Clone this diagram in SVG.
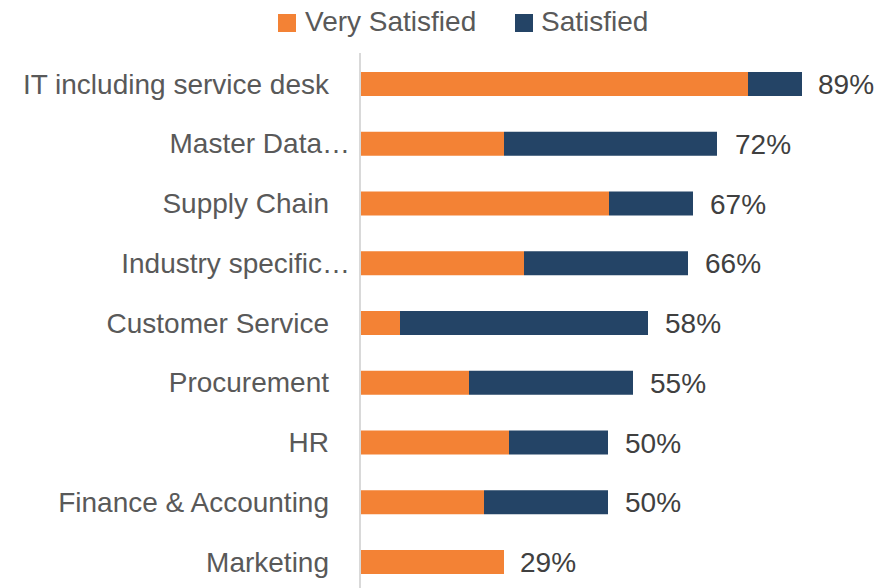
<svg xmlns="http://www.w3.org/2000/svg" width="889" height="588" viewBox="0 0 889 588">
<style>
.lbl{font-family:"Liberation Sans",Arial,sans-serif;font-size:28px;fill:#595959;text-anchor:end}
.val{font-family:"Liberation Sans",Arial,sans-serif;font-size:28px;fill:#404040}
.leg{font-family:"Liberation Sans",Arial,sans-serif;font-size:28px;fill:#595959}
.vs{fill:#F38235}
.s{fill:#244466}
</style>
<rect width="889" height="588" fill="#FFFFFF"/>
<g id="legend">
<rect class="vs" x="278" y="14" width="18" height="18"/>
<text class="leg" x="305" y="31">Very Satisfied</text>
<rect class="s" x="515" y="14" width="18" height="18"/>
<text class="leg" x="541" y="31">Satisfied</text>
</g>
<g id="axis"><line x1="360" y1="53" x2="360" y2="588" stroke="#D9D9D9" stroke-width="2"/></g>
<g id="bar-it">
<rect class="vs" x="361" y="72" width="387" height="24"/>
<rect class="s" x="748" y="72" width="54" height="24"/>
<text class="lbl" x="329" y="93.5">IT including service desk</text>
<text class="val" x="818" y="94">89%</text>
</g>
<g id="bar-master">
<rect class="vs" x="361" y="131.75" width="143" height="24"/>
<rect class="s" x="504" y="131.75" width="213" height="24"/>
<text class="lbl" x="350" y="153.25">Master Data…</text>
<text class="val" x="735" y="153.75">72%</text>
</g>
<g id="bar-supply">
<rect class="vs" x="361" y="191.5" width="248" height="24"/>
<rect class="s" x="609" y="191.5" width="84" height="24"/>
<text class="lbl" x="329" y="213">Supply Chain</text>
<text class="val" x="710" y="213.5">67%</text>
</g>
<g id="bar-industry">
<rect class="vs" x="361" y="251.25" width="163" height="24"/>
<rect class="s" x="524" y="251.25" width="164" height="24"/>
<text class="lbl" x="350" y="272.75">Industry specific…</text>
<text class="val" x="705" y="273.25">66%</text>
</g>
<g id="bar-customer">
<rect class="vs" x="361" y="311" width="39" height="24"/>
<rect class="s" x="400" y="311" width="248" height="24"/>
<text class="lbl" x="329" y="332.5">Customer Service</text>
<text class="val" x="665" y="333">58%</text>
</g>
<g id="bar-procurement">
<rect class="vs" x="361" y="370.75" width="108" height="24"/>
<rect class="s" x="469" y="370.75" width="164" height="24"/>
<text class="lbl" x="329" y="392.25">Procurement</text>
<text class="val" x="650" y="392.75">55%</text>
</g>
<g id="bar-hr">
<rect class="vs" x="361" y="430.5" width="148" height="24"/>
<rect class="s" x="509" y="430.5" width="99" height="24"/>
<text class="lbl" x="329" y="452">HR</text>
<text class="val" x="625" y="452.5">50%</text>
</g>
<g id="bar-finance">
<rect class="vs" x="361" y="490.25" width="123" height="24"/>
<rect class="s" x="484" y="490.25" width="124" height="24"/>
<text class="lbl" x="329" y="511.75">Finance &amp; Accounting</text>
<text class="val" x="625" y="512.25">50%</text>
</g>
<g id="bar-marketing">
<rect class="vs" x="361" y="550" width="143" height="24"/>
<text class="lbl" x="329" y="571.5">Marketing</text>
<text class="val" x="520" y="572">29%</text>
</g>
</svg>
